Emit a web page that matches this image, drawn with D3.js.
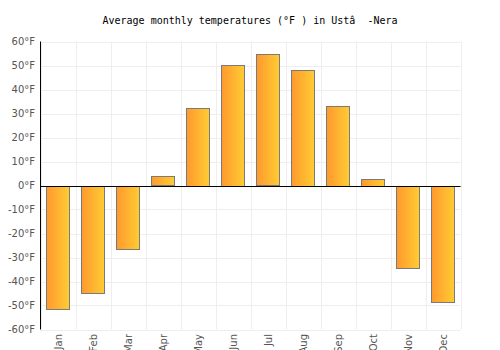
<!DOCTYPE html>
<html><head><meta charset="utf-8">
<script src="https://cdn.jsdelivr.net/npm/d3@7"></script>
<style>body{margin:0;background:#fff}svg{display:block}</style>
</head><body>
<script>
const months = ["Jan","Feb","Mar","Apr","May","Jun","Jul","Aug","Sep","Oct","Nov","Dec"];
const temps = [-51.3,-44.6,-26.1,3.9,32.5,50.4,54.6,48.3,33.3,2.8,-34.1,-48.3];
const yTicks = [-60,-50,-40,-30,-20,-10,0,10,20,30,40,50,60];
const title = "Average monthly temperatures (°F ) in Ustâ  -Nera";

const W=500,H=350;
const svg=d3.select("body").append("svg").attr("width",W).attr("height",H);
const defs=svg.append("defs");
const g=defs.append("linearGradient").attr("id","bg").attr("x1","0").attr("x2","1").attr("y1","0").attr("y2","0");
g.append("stop").attr("offset","0").attr("stop-color","#ff992e");
g.append("stop").attr("offset","1").attr("stop-color","#ffcc33");

const x=d3.scaleBand().domain(months).range([40.5,460.5]).padding(0);
const y=d3.scaleLinear().domain([-60,60]).range([329.5,41.5]);

// grid
svg.append("g").selectAll("line.h").data(yTicks).join("line")
 .attr("x1",40.5).attr("x2",460.5).attr("y1",d=>Math.round(y(d))+0.5).attr("y2",d=>Math.round(y(d))+0.5)
 .attr("stroke","#eeeeee").attr("stroke-width",1);
const vx=months.map(m=>x(m)).concat([x(months[11])+x.bandwidth()]);
svg.append("g").selectAll("line.v").data(vx).join("line")
 .attr("x1",d=>Math.round(d)+0.5).attr("x2",d=>Math.round(d)+0.5).attr("y1",41.5).attr("y2",329.5)
 .attr("stroke","#eeeeee").attr("stroke-width",1);

// bars
svg.append("g").selectAll("rect").data(temps).join("rect")
 .attr("x",(d,i)=>Math.round(x(months[i])+5.5)+0.5)
 .attr("width",Math.round(x.bandwidth()*0.65))
 .attr("y",d=>Math.round(y(Math.max(0,d)))+0.5)
 .attr("height",d=>Math.round(Math.abs(y(d)-y(0))))
 .attr("fill","url(#bg)").attr("stroke","#7a7a7a").attr("stroke-width",1);

// axes lines
svg.append("line").attr("x1",40.5).attr("x2",40.5).attr("y1",41.5).attr("y2",329.5).attr("stroke","#000");
svg.append("line").attr("x1",40.5).attr("x2",460.5).attr("y1",Math.round(y(0))+0.5).attr("y2",Math.round(y(0))+0.5).attr("stroke","#000");

// y labels
svg.append("g").selectAll("text").data(yTicks).join("text")
 .attr("x",35).attr("y",d=>y(d)).attr("dy","0.35em").attr("text-anchor","end")
 .attr("font-family","DejaVu Sans").attr("font-size","10px").attr("fill","#555")
 .text(d=>d+"°F");

// x labels
svg.append("g").selectAll("text").data(months).join("text")
 .attr("transform",d=>`translate(${x(d)+x.bandwidth()/2+0.5},334) rotate(-90)`)
 .attr("dy","0.35em").attr("text-anchor","end")
 .attr("font-family","DejaVu Sans").attr("font-size","10px").attr("fill","#555")
 .text(d=>d);

svg.append("text").attr("x",250).attr("y",24).attr("text-anchor","middle")
 .style("white-space","pre")
 .attr("font-family","DejaVu Sans Mono").attr("font-size","10px").attr("fill","#000")
 .text(title);
</script>
</body></html>
